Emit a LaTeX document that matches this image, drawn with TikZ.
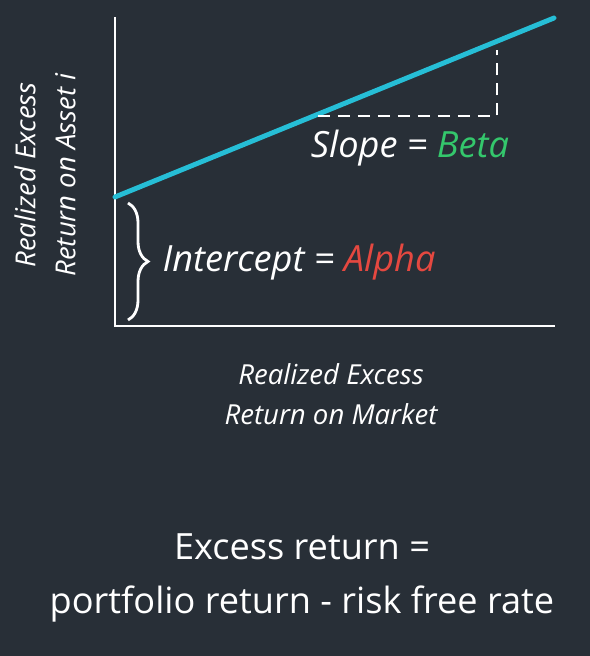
\documentclass[tikz,border=0pt]{standalone}
\usepackage{fontspec}
\setmainfont{Open Sans}
\usetikzlibrary{decorations.pathreplacing}
\definecolor{bg}{RGB}{40,47,55}
\definecolor{fitln}{RGB}{38,190,214}
\definecolor{betac}{RGB}{52,199,108}
\definecolor{alphac}{RGB}{229,72,64}

\begin{document}
\begin{tikzpicture}[x=0.025cm,y=-0.025cm,
    axis/.style={draw=white,line width=2.1pt},
    regr/.style={draw=fitln,line width=3.5pt},
    guide/.style={draw=white,line width=2pt,dash pattern=on 8.5pt off 5.7pt},
    lbl/.style={text=white,font=\fontsize{25.7}{30}\selectfont\itshape,inner sep=0pt},
    axlbl/.style={text=white,font=\fontsize{19.6}{28.4}\selectfont\itshape,align=center,inner sep=0pt},
    note/.style={text=white,font=\fontsize{25.7}{38}\selectfont,align=center,inner sep=0pt}]
    \fill[bg] (0,0) rectangle (590,656);
    % axes
    \coordinate (top) at (115,17);
    \coordinate (o)   at (115,326);
    \coordinate (rt)  at (555,326);
    \draw[axis] (top) -- (o) -- (rt);
    % fitted line and slope triangle
    \coordinate (a0) at (115,197);
    \coordinate (a1) at (554,18);
    \draw[regr,line cap=round] (a0) -- (a1);
    \coordinate (d0) at (318,116);
    \coordinate (d1) at (497,116);
    \coordinate (d2) at (497,50);
    \draw[guide] (d0) -- (d1) -- (d2);
    % intercept brace
    \coordinate (b0) at (128,203);
    \coordinate (b1) at (128,320);
    \draw[draw=white,line width=2pt,decorate,
          decoration={brace,amplitude=0.5cm}] (b0) -- (b1);
    \node[lbl] (slope) at (410,148) {Slope = \textcolor{betac}{Beta}};
    \node[lbl] (icpt)  at (299,262) {Intercept = \textcolor{alphac}{Alpha}};
    \node[axlbl,rotate=90] (ylab) at (45,175) {Realized Excess\\Return on Asset i};
    \node[axlbl] (xlab) at (331,394) {Realized Excess\\Return on Market};
    \node[note] (def) at (302,578) {Excess return =\\portfolio return - risk free rate};
\end{tikzpicture}
\end{document}
